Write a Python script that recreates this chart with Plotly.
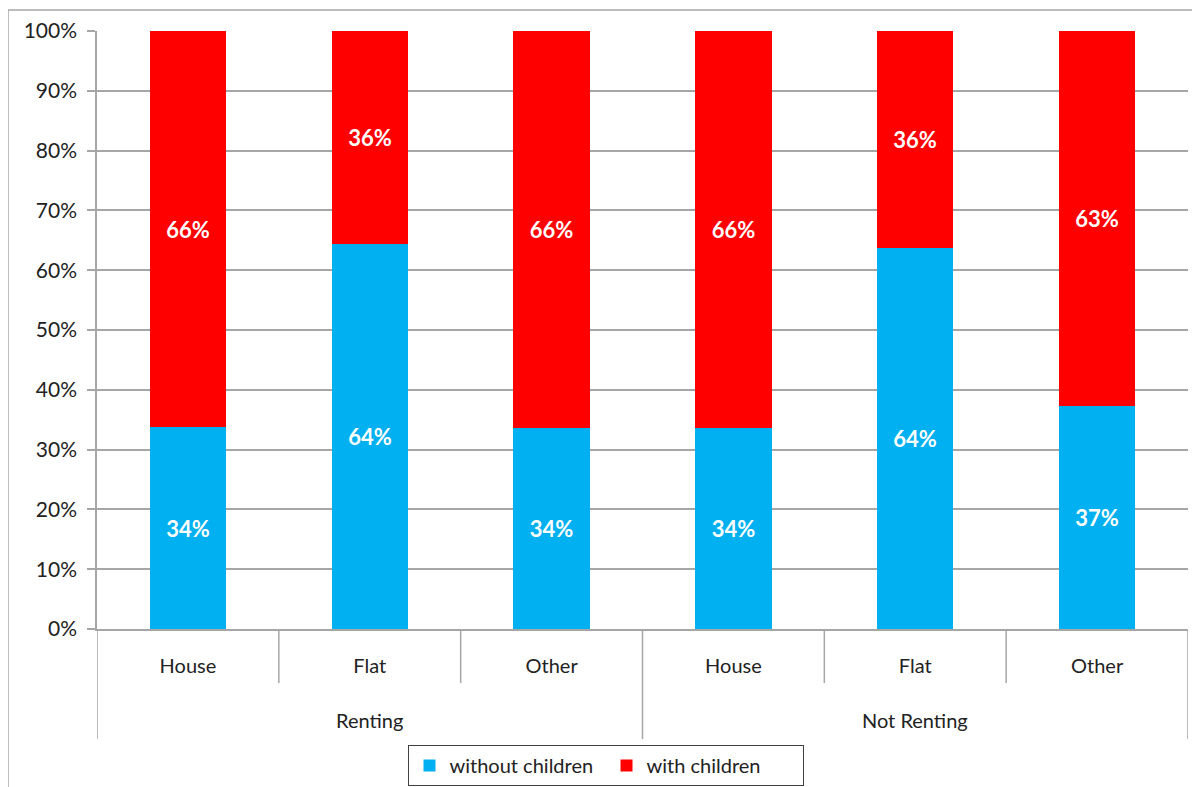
import plotly.graph_objects as go

# data (percent of each bar)
grupos = ["Renting", "Not Renting"]
tipos = ["House", "Flat", "Other", "House", "Flat", "Other"]
sem_filhos = [33.8, 64.4, 33.6, 33.6, 63.7, 37.3]   # without children
com_filhos = [66.2, 35.6, 66.4, 66.4, 36.3, 62.7]   # with children

pos = list(range(len(tipos)))

fonte = "Lato"
cinza = "#A6A6A6"

fig = go.Figure()
fig.add_trace(go.Bar(x=pos, y=sem_filhos, name="without children",
                     marker=dict(color="#00B0F0", line=dict(width=0)),
                     width=0.42, texttemplate="%{y:.0f}%", textposition="inside",
                     insidetextanchor="middle", textangle=0,
                     textfont=dict(family=fonte, size=22, color="white", weight="bold")))
fig.add_trace(go.Bar(x=pos, y=com_filhos, name="with children",
                     marker=dict(color="#FF0000", line=dict(width=0)),
                     width=0.42, texttemplate="%{y:.0f}%", textposition="inside",
                     insidetextanchor="middle", textangle=0,
                     textfont=dict(family=fonte, size=22, color="white", weight="bold")))

# linhas de divisao do eixo x, estilo excel
shapes = []
for xv in [0.5, 1.5, 3.5, 4.5]:
    shapes.append(dict(type="line", xref="x", yref="paper", x0=xv, x1=xv, y0=0, y1=-0.0903,
                       line=dict(color=cinza, width=1.5)))
for xv in [-0.5, 2.5, 5.5]:
    shapes.append(dict(type="line", xref="x", yref="paper", x0=xv, x1=xv, y0=0, y1=-0.184,
                       line=dict(color=cinza, width=1.5)))
# moldura do grafico
shapes.append(dict(type="line", xref="paper", yref="paper", x0=-0.0816, x1=1.02, y0=1.0351, y1=1.0351,
                   line=dict(color=cinza, width=1.5)))
shapes.append(dict(type="line", xref="paper", yref="paper", x0=-0.0816, x1=-0.0816, y0=1.0351, y1=-0.3,
                   line=dict(color=cinza, width=1.5)))

annotations = []
for i, g in enumerate(grupos):
    annotations.append(dict(x=1 + 3 * i, y=-0.152, xref="x", yref="paper", text=g, showarrow=False,
                            yanchor="middle", font=dict(family=fonte, size=20, color="#222222")))

# a pagina tem margem de 8px no body, entao a figura fica 8px menor
fig.update_layout(
    barmode="stack",
    width=1192, height=779,
    margin=dict(l=89, r=12, t=23, b=158, autoexpand=False),
    paper_bgcolor="white", plot_bgcolor="white",
    shapes=shapes, annotations=annotations,
    bargap=0,
    legend=dict(orientation="h", x=0.467, xanchor="center", y=1 - 737 / 779, yanchor="top",
                yref="container", traceorder="normal",
                bordercolor="#404040", borderwidth=1, bgcolor="white",
                font=dict(family=fonte, size=20, color="#222222"),
                entrywidth=152, itemwidth=30),
    uniformtext=dict(minsize=22, mode="show"),
)
fig.update_xaxes(range=[-0.5, 5.5], tickvals=pos, ticktext=tipos, showgrid=False, automargin=False,
                 showline=True, linecolor=cinza, linewidth=1.5, ticks="", ticklabelstandoff=18,
                 tickfont=dict(family=fonte, size=20, color="#222222"), zeroline=False)
fig.update_yaxes(range=[0, 100], dtick=10, ticksuffix="%", showgrid=True, gridcolor=cinza, gridwidth=1.5,
                 showline=True, linecolor=cinza, linewidth=1.5, ticks="outside", ticklen=8, tickcolor=cinza,
                 tickwidth=1.5, ticklabelstandoff=6, automargin=False,
                 tickfont=dict(family=fonte, size=21, color="#222222"), zeroline=False)

fig.write_html("out.html")
